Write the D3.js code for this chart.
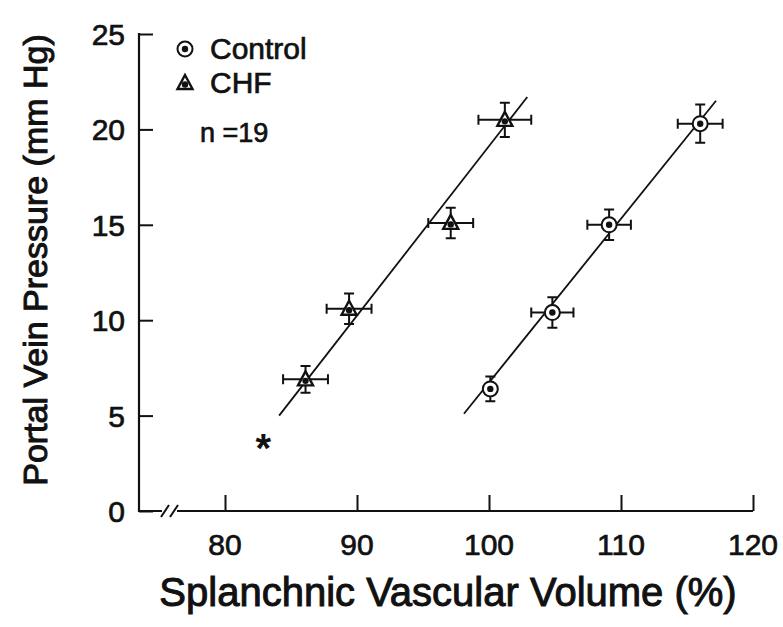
<!DOCTYPE html>
<html>
<head>
<meta charset="utf-8">
<script src="https://cdn.jsdelivr.net/npm/d3@7"></script>
<style>
    body { margin: 0; background: #fff; }
    text { font-family: "Liberation Sans", Arial, Helvetica, sans-serif; fill: #111; }
    .heavy { stroke: #111; stroke-width: 0.7px; }
</style>
</head>
<body>
<div id="chart"></div>
<script>
// Portal vein pressure vs splanchnic vascular volume

// Data
// ---------------------------------------------------------
let chfX = [86.1, 89.4, 97.1, 101.2],
    chfY = [6.9, 10.6, 15.1, 20.5],
    chfXErr = [1.7, 1.7, 1.7, 2.0],
    chfYErr = [0.7, 0.8, 0.8, 0.9];

let ctlX = [100.1, 104.8, 109.1, 116.0],
    ctlY = [6.4, 10.4, 15.0, 20.3],
    ctlXErr = [0.4, 1.6, 1.65, 1.7],
    ctlYErr = [0.65, 0.8, 0.8, 1.0];

let chfFit = [[84.1, 5.0], [102.9, 21.7]],
    ctlFit = [[98.1, 5.1], [117.2, 21.5]];

let asterisk = [82.9, 3.5];

let xTicks = [80, 90, 100, 110, 120],
    yTicks = [0, 5, 10, 15, 20, 25];

let legendLabels = ["Control", "CHF"];

// Layout
// ---------------------------------------------------------
let width = 783,
    height = 627,
    axisLeft = 139,
    axisBottom = 511;

let svg = d3.select("#chart").append("svg")
    .attr("width", width)
    .attr("height", height);

let x = d3.scaleLinear().domain([80, 120]).range([225, 753]);
let y = d3.scaleLinear().domain([0, 25]).range([axisBottom, 34]);

// Axes
// ---------------------------------------------------------
let yAxis = d3.axisRight(y).tickValues(yTicks).tickSize(14).tickFormat("");
let gy = svg.append("g")
    .attr("transform", `translate(${axisLeft},0)`)
    .call(yAxis);
gy.select(".domain").remove();
gy.selectAll(".tick line").attr("stroke", "#111").attr("stroke-width", 2);

svg.append("line")
    .attr("x1", axisLeft).attr("x2", axisLeft)
    .attr("y1", y(25) - 1).attr("y2", axisBottom + 1)
    .attr("stroke", "#111").attr("stroke-width", 2.2);

svg.selectAll(".yLabel")
    .data(yTicks)
    .enter()
    .append("text")
        .attr("class", "yLabel heavy")
        .attr("x", 125)
        .attr("y", d => y(d) + 11)
        .attr("text-anchor", "end")
        .attr("font-size", 30)
        .text(d => d);

let xAxis = d3.axisTop(x).tickValues(xTicks).tickSize(16).tickFormat("");
let gx = svg.append("g")
    .attr("transform", `translate(0,${axisBottom})`)
    .call(xAxis);
gx.select(".domain").remove();
gx.selectAll(".tick line").attr("stroke", "#111").attr("stroke-width", 2);

// x axis line with a break near the origin
let breakA = 165, breakB = 174;
svg.append("path")
    .attr("d", `M${axisLeft},${axisBottom}H${breakA - 3}M${breakB + 3},${axisBottom}H${x(120)}`)
    .attr("stroke", "#111").attr("stroke-width", 2.2).attr("fill", "none");

svg.selectAll(".breakMark")
    .data([breakA, breakB])
    .enter()
    .append("line")
        .attr("class", "breakMark")
        .attr("x1", d => d - 4).attr("y1", axisBottom + 6)
        .attr("x2", d => d + 4).attr("y2", axisBottom - 6)
        .attr("stroke", "#111").attr("stroke-width", 2);

svg.selectAll(".xLabel")
    .data(xTicks)
    .enter()
    .append("text")
        .attr("class", "xLabel heavy")
        .attr("x", d => x(d))
        .attr("y", 555)
        .attr("text-anchor", "middle")
        .attr("font-size", 30)
        .text(d => d);

// Axis titles
svg.append("text")
    .attr("class", "heavy")
    .attr("x", 448)
    .attr("y", 606)
    .attr("text-anchor", "middle")
    .attr("font-size", 40)
    .style("stroke-width", "1px")
    .text("Splanchnic Vascular Volume (%)");

svg.append("text")
    .attr("class", "heavy")
    .attr("transform", "translate(47,260) rotate(-90)")
    .attr("text-anchor", "middle")
    .attr("font-size", 34)
    .style("stroke-width", "1px")
    .text("Portal Vein Pressure (mm Hg)");

// Regression lines
// ---------------------------------------------------------
let lineGen = d3.line().x(d => x(d[0])).y(d => y(d[1]));

svg.selectAll(".fitLine")
    .data([chfFit, ctlFit])
    .enter()
    .append("path")
        .attr("class", "fitLine")
        .attr("d", lineGen)
        .attr("stroke", "#111")
        .attr("stroke-width", 1.8)
        .attr("fill", "none");

// Error bars
// ---------------------------------------------------------
function toPoints(xs, ys, xe, ye, kind) {
    return xs.map((d, i) => ({ x: d, y: ys[i], xe: xe[i], ye: ye[i], kind: kind }));
}

let points = toPoints(chfX, chfY, chfXErr, chfYErr, "chf")
    .concat(toPoints(ctlX, ctlY, ctlXErr, ctlYErr, "ctl"));

let bars = svg.selectAll(".errBar")
    .data(points)
    .enter()
    .append("g")
        .attr("class", "errBar")
        .attr("stroke", "#111")
        .attr("stroke-width", 2);

bars.append("path")
    .attr("d", d => {
        let cx = x(d.x), cy = y(d.y),
            x0 = x(d.x - d.xe), x1 = x(d.x + d.xe),
            y0 = y(d.y - d.ye), y1 = y(d.y + d.ye);
        return `M${x0},${cy}H${x1}M${x0},${cy - 5}V${cy + 5}M${x1},${cy - 5}V${cy + 5}` +
            `M${cx},${y0}V${y1}M${cx - 5},${y0}H${cx + 5}M${cx - 5},${y1}H${cx + 5}`;
    });

// Markers
// ---------------------------------------------------------
function drawMarker(g, kind) {
    if (kind == "ctl") {
        g.append("circle").attr("r", 7.5)
            .attr("fill", "#fff").attr("stroke", "#111").attr("stroke-width", 2);
        g.append("circle").attr("r", 3.2).attr("fill", "#111");
    } else {
        g.append("path").attr("d", "M0,-8L7.5,6H-7.5Z")
            .attr("fill", "#fff").attr("stroke", "#111").attr("stroke-width", 2.4);
        g.append("circle").attr("cy", 1.5).attr("r", 3.2).attr("fill", "#111");
    }
}

svg.selectAll(".marker")
    .data(points)
    .enter()
    .append("g")
        .attr("class", "marker")
        .attr("transform", d => `translate(${x(d.x)},${y(d.y)})`)
        .each(function(d) { drawMarker(d3.select(this), d.kind); });

// Asterisk
svg.append("text")
    .attr("x", x(asterisk[0]))
    .attr("y", y(asterisk[1]) + 18)
    .attr("text-anchor", "middle")
    .attr("font-size", 40)
    .attr("font-weight", "bold")
    .text("*");

// Legend
// ---------------------------------------------------------
let legend = svg.selectAll(".legendItem")
    .data(legendLabels)
    .enter()
    .append("g")
        .attr("class", "legendItem")
        .attr("transform", (d, i) => `translate(185,${49 + i * 34})`);

legend.each(function(d, i) { drawMarker(d3.select(this), i == 0 ? "ctl" : "chf"); });

legend.append("text")
    .attr("class", "heavy")
    .attr("x", 25)
    .attr("y", 10)
    .attr("font-size", 30)
    .text(d => d);

svg.append("text")
    .attr("class", "heavy")
    .attr("x", 200)
    .attr("y", 142)
    .attr("font-size", 27)
    .text("n =19");
</script>
</body>
</html>
